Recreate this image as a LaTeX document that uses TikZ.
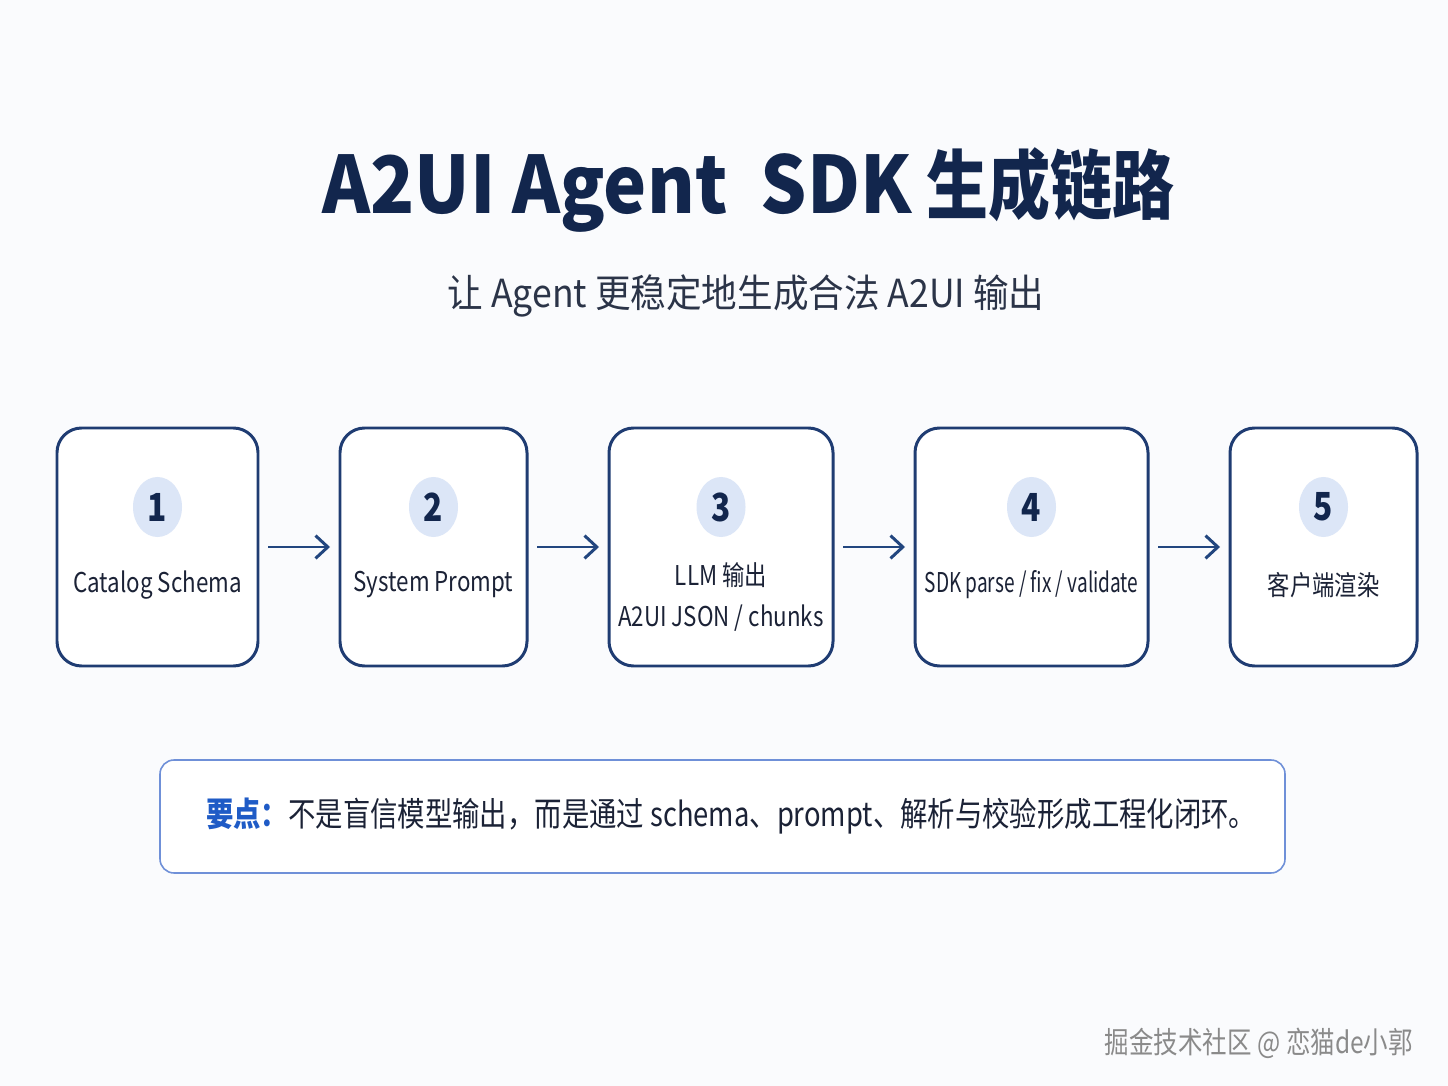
\documentclass[tikz,border=0pt]{standalone}
\usepackage{fontspec}
\setmainfont[FakeStretch=0.82]{Noto Sans CJK SC}
\newfontfamily\widefont[FakeStretch=0.92]{Noto Sans CJK SC}
\newfontfamily\narrowfont[FakeStretch=0.7]{Noto Sans CJK SC}
\usepackage{tikz}
\usetikzlibrary{positioning,arrows.meta,shapes.geometric}

\definecolor{bgc}{HTML}{FAFBFD}
\definecolor{navy}{HTML}{12264D}
\definecolor{boxline}{HTML}{1F3C72}
\definecolor{numfill}{HTML}{DCE6F7}
\definecolor{arrowc}{HTML}{22467F}
\definecolor{textc}{HTML}{1B2236}
\definecolor{subc}{HTML}{2B3448}
\definecolor{noteline}{HTML}{6F90D8}
\definecolor{keyc}{HTML}{1F5BC6}
\definecolor{markc}{HTML}{8A8A8A}

\begin{document}
\begin{tikzpicture}[node distance=1.64cm,
        stage/.style={draw=boxline, line width=1.7pt, rounded corners=14pt, fill=white,
                minimum height=4.76cm, inner sep=0pt, outer sep=0pt},
        num/.style={ellipse, fill=numfill, minimum width=0.98cm, minimum height=1.2cm,
                inner sep=0pt, text=navy, font=\fontsize{22pt}{24pt}\selectfont\bfseries},
        lbl/.style={text=textc, font=\fontsize{15.5pt}{23pt}\selectfont, align=center},
        flow/.style={draw=arrowc, line width=1.7pt, -{Straight Barb[length=7pt,width=13pt]},
                shorten >=0.2cm, shorten <=0.2cm}]
        \fill[bgc] (0,0) rectangle (28.96,-21.72);
        \useasboundingbox (0,0) rectangle (28.96,-21.72);

        \node (title) [text=navy, font=\fontsize{45pt}{54pt}\selectfont\bfseries] at (14.97,-3.8)
                {{\widefont\bfseries A2UI Agent\ \ SDK} {\fontsize{43pt}{54pt}\selectfont 生成链路}};
        \node (subtitle) [text=subc, font=\fontsize{22pt}{28pt}\selectfont\widefont] at (14.92,-5.92) {让 Agent 更稳定地生成合法 A2UI 输出};

        \node (c1) [stage, minimum width=4.02cm] at (3.15,-10.94) {};
        \node (c2) [stage, minimum width=3.74cm, right=of c1] {};
        \node (c3) [stage, minimum width=4.48cm, right=of c2] {};
        \node (c4) [stage, minimum width=4.66cm, right=of c3] {};
        \node (c5) [stage, minimum width=3.74cm, right=of c4] {};

        \node (n1) [num] at ([yshift=-1.58cm]c1.north) {1};
        \node (n2) [num] at ([yshift=-1.58cm]c2.north) {2};
        \node (n3) [num] at ([yshift=-1.58cm]c3.north) {3};
        \node (n4) [num] at ([yshift=-1.58cm]c4.north) {4};
        \node (n5) [num] at ([yshift=-1.58cm]c5.north) {5};

        \node (t1) [lbl] at ([yshift=-0.76cm]c1.center) {Catalog Schema};
        \node (t2) [lbl] at ([yshift=-0.76cm]c2.center) {System Prompt};
        \node (t3) [lbl] at ([yshift=-1.0cm]c3.center) {LLM 输出\\A2UI JSON / chunks};
        \node (t4) [lbl] at ([yshift=-0.76cm]c4.center) {\narrowfont SDK parse / fix / validate};
        \node (t5) [lbl] at ([yshift=-0.76cm]c5.center) {客户端渲染};

        \draw[flow] (c1) -- (c2);
        \draw[flow] (c2) -- (c3);
        \draw[flow] (c3) -- (c4);
        \draw[flow] (c4) -- (c5);

        \node (note) [draw=noteline, line width=0.9pt, rounded corners=8pt, fill=white,
                minimum width=22.5cm, minimum height=2.26cm, text=textc,
                font=\fontsize{19pt}{24pt}\selectfont] at (14.45,-16.33)
                {\hspace{0.35cm}{\color{keyc}\bfseries 要点：}不是盲信模型输出，而是通过 schema、prompt、解析与校验形成工程化闭环。};

        \node (mark) [anchor=east, text=markc, font=\fontsize{17pt}{19pt}\selectfont] at (28.38,-20.86) {掘金技术社区 @ 恋猫de小郭};
    \end{tikzpicture}
\end{document}
